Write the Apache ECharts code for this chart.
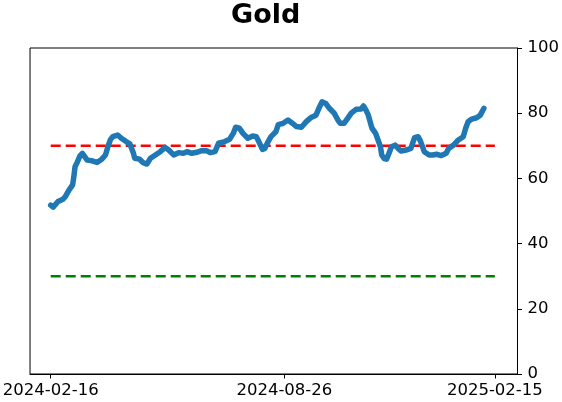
<!DOCTYPE html>
<html>
<head>
<meta charset="utf-8">
<script src="https://cdn.jsdelivr.net/npm/echarts@6/dist/echarts.min.js"></script>
<style>
html,body{margin:0;padding:0;background:#fff;}
#chart{width:562px;height:402px;}
</style>
</head>
<body>
<div id="chart"></div>
<script>
// Days since 2024-02-16
const days = [0,2,6,10,12,15,18,19,20,22,24,26,30,34,38,42,45,47,49,51,55,58,62,65,68,69,73,76,79,82,86,90,94,97,101,105,109,112,116,120,124,128,131,135,138,143,147,150,152,155,158,162,166,169,171,174,176,178,181,185,187,191,195,198,202,206,210,214,218,221,223,226,229,233,236,238,241,244,247,251,255,257,259,261,264,267,269,271,272,274,276,278,280,283,286,288,292,296,299,302,304,307,311,314,317,321,325,327,331,335,339,341,343,346,350,353,356];
const values = [51.8,51.2,52.9,53.6,54.4,56.4,58.0,60.5,63.6,65.1,66.9,67.7,65.6,65.4,64.9,65.9,67.2,69.7,71.8,72.8,73.3,72.3,71.3,70.6,67.7,66.2,65.9,64.8,64.4,66.2,67.2,68.2,69.5,68.7,67.2,67.9,67.7,68.2,67.7,68.0,68.5,68.5,67.9,68.2,70.8,71.3,72.0,73.8,75.7,75.4,73.8,72.3,73.0,72.8,71.3,68.9,69.2,70.8,72.8,74.3,76.5,76.9,77.9,77.1,75.9,75.7,77.4,78.7,79.4,82.0,83.5,83.0,81.5,80.0,77.9,76.9,76.9,78.4,80.0,81.2,81.3,82.2,81.0,79.4,75.4,73.8,71.8,69.7,67.2,66.1,65.9,67.7,69.7,70.2,69.0,68.4,68.7,69.2,72.5,72.8,71.3,68.2,67.2,67.2,67.4,67.0,67.7,69.2,70.2,71.8,72.8,75.4,77.4,78.2,78.6,79.4,81.5];
const tickDays = [0,192,365];
const tickLabels = ['2024-02-16','2024-08-26','2025-02-15'];
const refSpan = [0,365];
const upperLevel = 70;
const lowerLevel = 30;

const chart = echarts.init(document.getElementById('chart'), null, {renderer:'canvas'});
const font = 'DejaVu Sans';
chart.setOption({
  animation:false,
  backgroundColor:'#fff',
  title:{text:'Gold', left:226, top:-3, textStyle:{fontFamily:font, fontWeight:'bold', fontSize:27, color:'#000'}},
  grid:{left:27, right:39, top:48, bottom:28, show:true, borderColor:'#000', borderWidth:1, containLabel:false},
  xAxis:{
    type:'value', min:-17, max:383.6,
    axisLine:{show:true, onZero:false, lineStyle:{color:'#000', width:1}},
    axisTick:{show:true, length:4.5, lineStyle:{color:'#000'}, customValues:tickDays},
    axisLabel:{show:true, margin:8, fontFamily:font, fontSize:16.5, color:'#000', customValues:tickDays,
      formatter:function(v){const i=tickDays.indexOf(v); return i>=0?tickLabels[i]:'';}},
    splitLine:{show:false}
  },
  yAxis:{
    type:'value', position:'right', min:0, max:100, interval:20,
    axisLine:{show:true, onZero:false, lineStyle:{color:'#000', width:1}},
    axisTick:{show:true, length:4.5, lineStyle:{color:'#000'}},
    axisLabel:{margin:10, fontFamily:font, fontSize:16.5, color:'#000'},
    splitLine:{show:false}
  },
  series:[
    {type:'line', data:refSpan.map(d=>[d,upperLevel]), symbol:'none', silent:true,
      lineStyle:{color:'#ff0000', width:2.5, type:[10,5]}},
    {type:'line', data:refSpan.map(d=>[d,lowerLevel]), symbol:'none', silent:true,
      lineStyle:{color:'#008000', width:2.5, type:[10,5]}},
    {type:'line', data:days.map((d,i)=>[d,values[i]]), symbol:'none', smooth:false,
      lineStyle:{color:'#1f77b4', width:5.5, cap:'round', join:'round'}}
  ]
});
</script>
</body>
</html>
